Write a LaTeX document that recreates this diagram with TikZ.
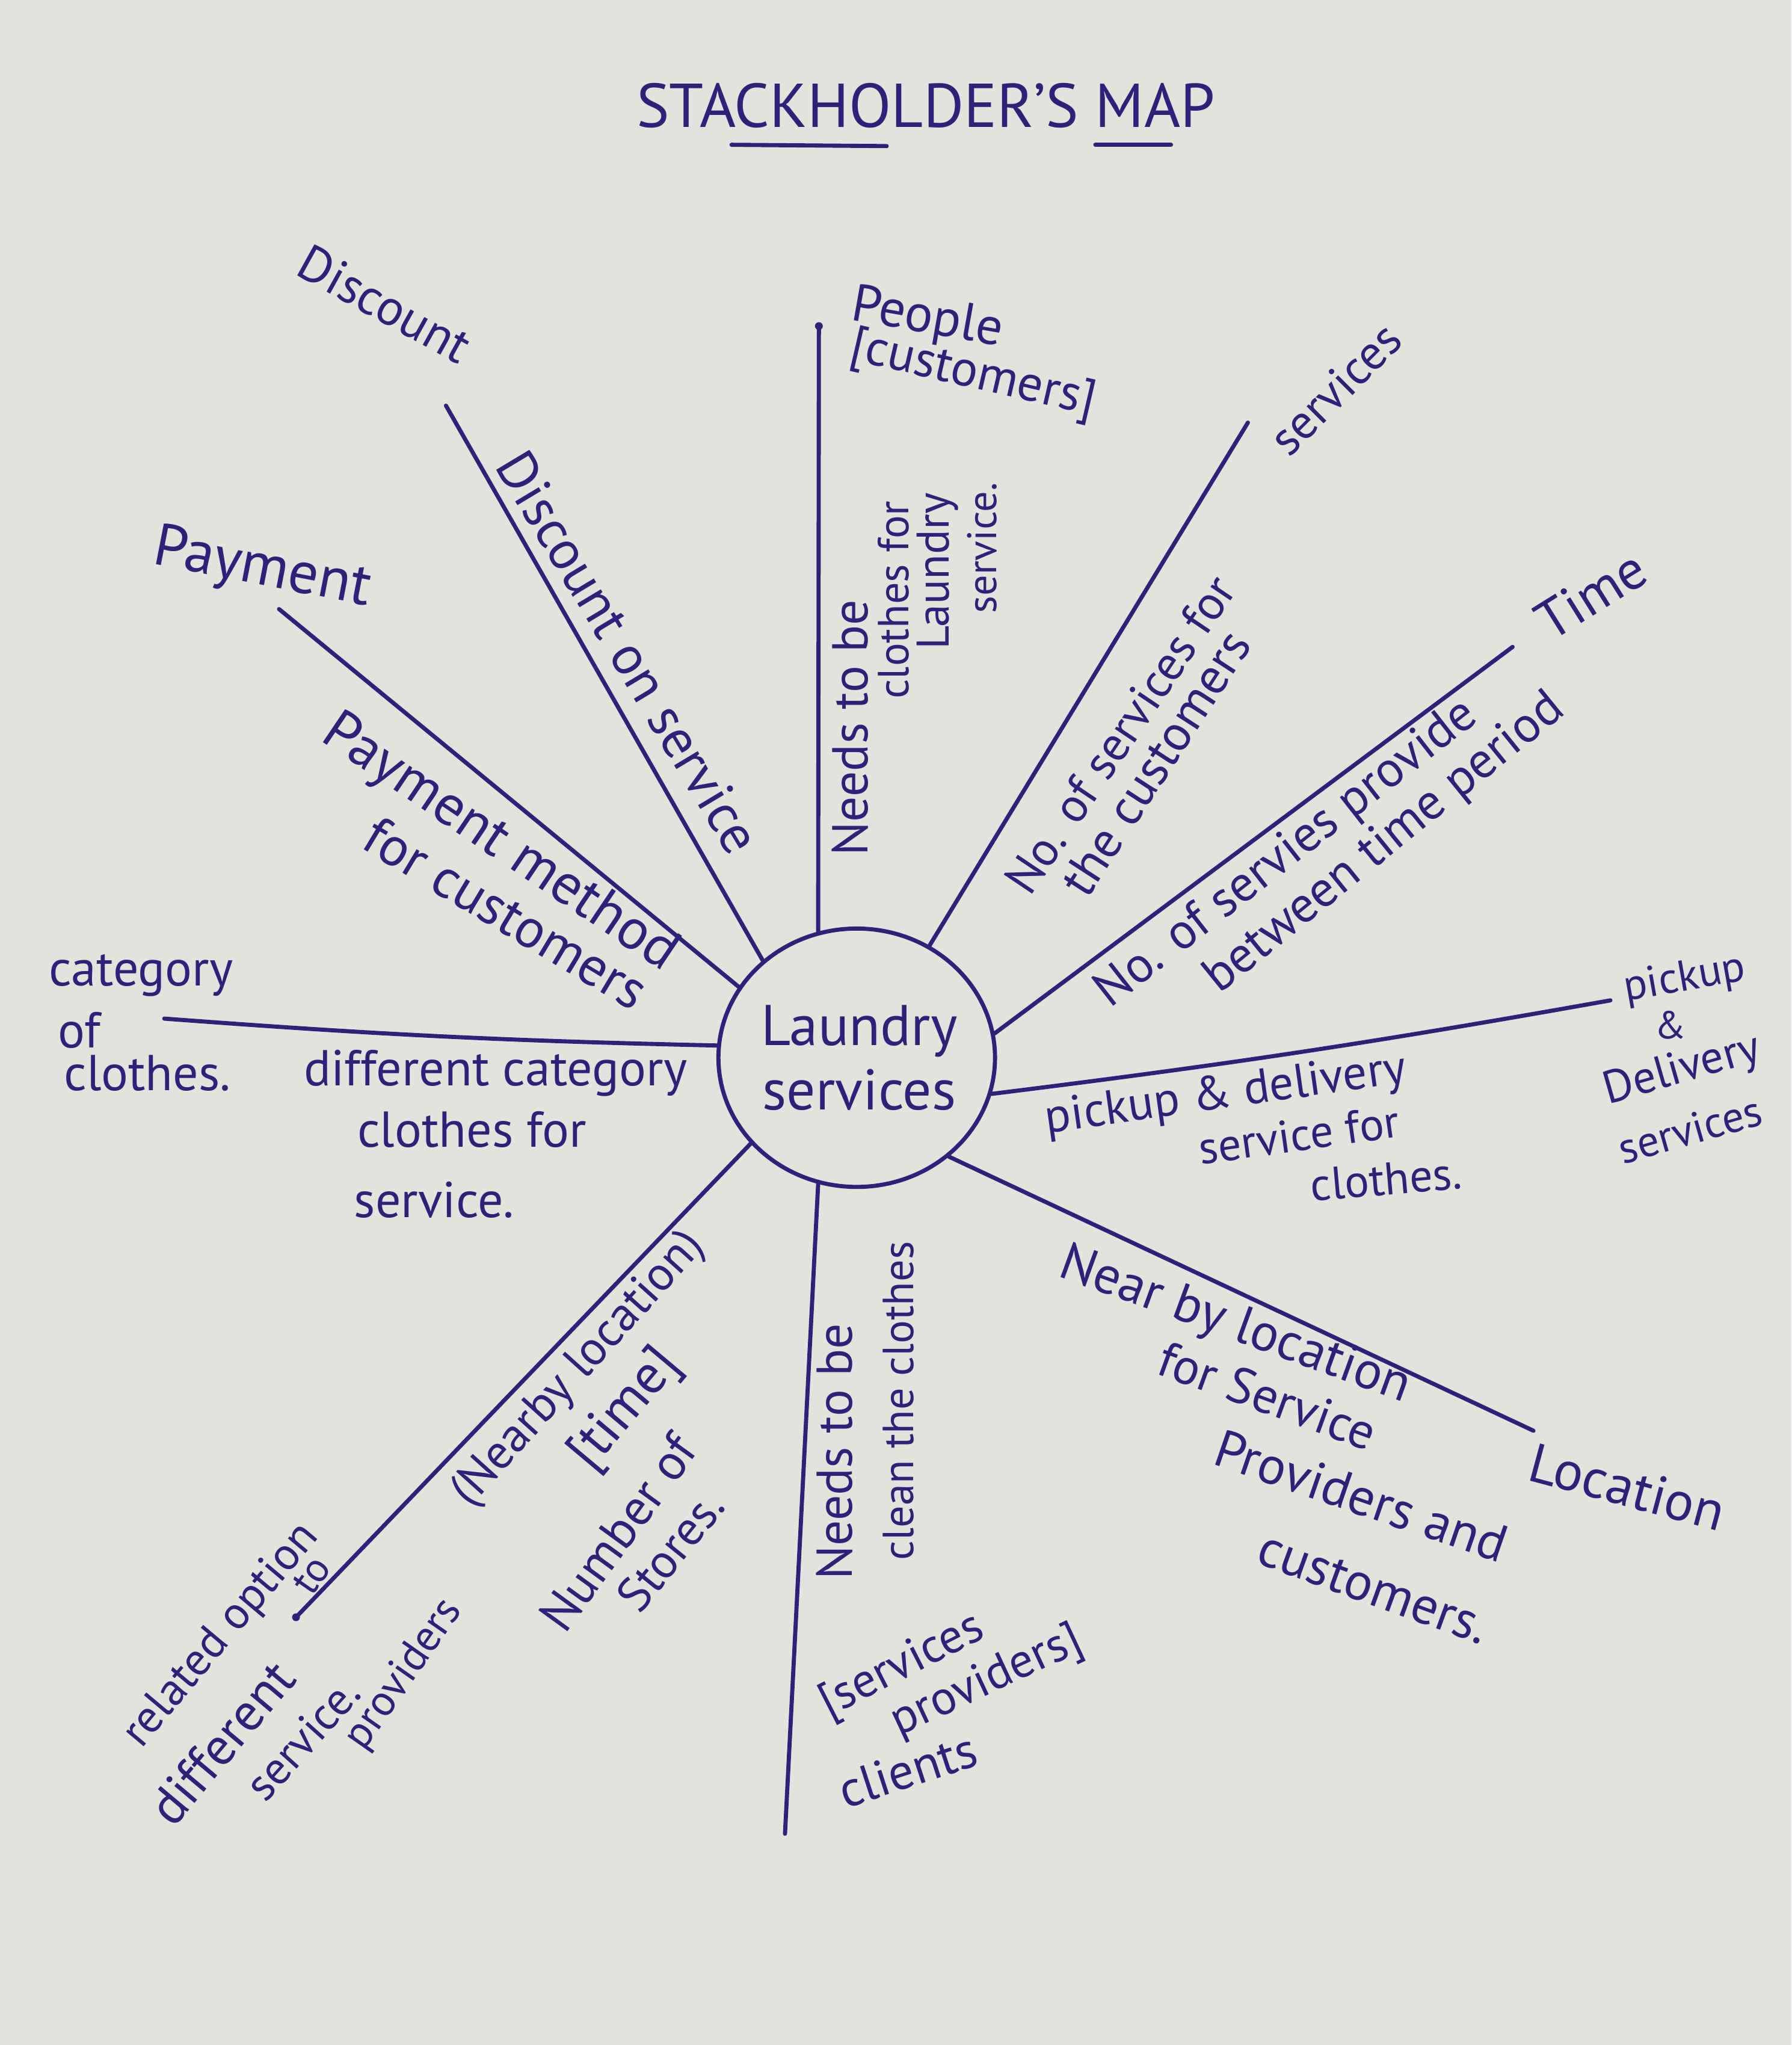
\documentclass[tikz,border=0pt]{standalone}
\usepackage{fontspec}
\setmainfont{PT Sans}
\usetikzlibrary{shapes.geometric}
\definecolor{ink}{RGB}{44,34,122}
\definecolor{paper}{RGB}{228,226,220}
\newcommand\hf[1]{\fontsize{#1}{#1}\selectfont}
\tikzset{
  inkline/.style={draw=ink, line width=0.9pt, line cap=round},
  hand/.style={text=ink, inner sep=0pt, anchor=center},
  hubshape/.style={ellipse, draw=ink, line width=0.9pt, minimum width=2.12cm, minimum height=1.98cm, inner sep=0pt},
}
\begin{document}
\begin{tikzpicture}[x=0.01cm, y=-0.01cm]
\useasboundingbox (0,0) rectangle (1374,1568);
\fill[paper] (0,0) rectangle (1374,1568);

% title
\node[hand, font=\hf{13.5}] (title) at (710,81) {STACKHOLDER'S MAP};
\coordinate (u1a) at (561,111); \coordinate (u1b) at (680,112);
\coordinate (u2a) at (840,111); \coordinate (u2b) at (898,111);
\draw[inkline] (u1a) -- (u1b);
\draw[inkline] (u2a) -- (u2b);

% hub
\node[hubshape] (hub) at (657,811) {};
\node[hand, font=\hf{12.5}, align=center] (hubtext) at (659,811) {Laundry\\[1.5pt]services};

% outer ends
\coordinate (c1) at (628,250);
\coordinate (c2) at (342,311);
\coordinate (c3) at (214,467);
\coordinate (c4) at (126,781);
\coordinate (c5) at (227,1240);
\coordinate (c6) at (602,1406);
\coordinate (c7) at (1176,1097);
\coordinate (c8) at (1235,767);
\coordinate (c9) at (1160,496);
\coordinate (c10) at (957,324);

\draw[inkline] (hub.107) -- (c1);
\draw[inkline] (hub.134) -- (c2);
\draw[inkline] (hub.149.5) -- (c3);
\draw[inkline] (hub.175) to[bend left=1.5] (c4);
\draw[inkline] (hub.219) -- (c5);
\draw[inkline] (hub.253) -- (c6);
\draw[inkline] (hub.313) -- (c7);
\draw[inkline] (hub.345) to[bend right=1.5] (c8);
\draw[inkline] (hub.10.7) -- (c9);
\draw[inkline] (hub.57.4) -- (c10);
\fill[ink] (c1) circle[radius=0.03cm];
\fill[ink] (c5) circle[radius=0.03cm];

% up: people
\node[hand, font=\hf{11.5}, rotate=-10] (peopleA) at (711,245) {People};
\node[hand, font=\hf{11}, rotate=-13] (peopleB) at (746,288) {[customers]};
\node[hand, font=\hf{11}, rotate=90] (needsA) at (652,558) {Needs to be};
\node[hand, font=\hf{9.5}, rotate=90] (needsB) at (685,460) {clothes for};
\node[hand, font=\hf{10}, rotate=90] (needsC) at (719,438) {Laundry};
\node[hand, font=\hf{9}, rotate=90] (needsD) at (753,420) {service.};

% discount
\node[hand, font=\hf{11}, rotate=-29] (discL) at (295,233) {Discount};
\node[hand, font=\hf{12}, rotate=-59] (discT) at (482,500) {Discount on service};

% payment
\node[hand, font=\hf{13}, rotate=-11] (payL) at (201,437) {Payment};
\node[hand, font=\hf{12.5}, rotate=-34] (payT1) at (383,647) {Payment method};
\node[hand, font=\hf{12}, rotate=-31] (payT2) at (388,700) {for customers};

% category
\node[hand, font=\hf{11}] (catA) at (108,748) {category};
\node[hand, font=\hf{11}] (catB) at (61,790) {of};
\node[hand, font=\hf{11}] (catC) at (113,823) {clothes.};
\node[hand, font=\hf{11}] (diffA) at (380,823) {different category};
\node[hand, font=\hf{11}] (diffB) at (362,866) {clothes for};
\node[hand, font=\hf{11}] (diffC) at (333,920) {service.};

% services
\node[hand, font=\hf{10.5}, rotate=45] (servL) at (1024,298) {services};
\node[hand, font=\hf{10.5}, rotate=56] (numA) at (859,563) {No. of services for};
\node[hand, font=\hf{11}, rotate=57] (numB) at (886,585) {the customers};

% time
\node[hand, font=\hf{12}, rotate=32] (timeL) at (1220,456) {Time};
\node[hand, font=\hf{11}, rotate=38] (tpA) at (987,655) {No. of servies provide};
\node[hand, font=\hf{11}, rotate=39] (tpB) at (1062,647) {between time period};

% pickup
\node[hand, font=\hf{10.5}, rotate=8] (pdA) at (940,840) {pickup \& delivery};
\node[hand, font=\hf{10}, rotate=8] (pdB) at (996,870) {service for};
\node[hand, font=\hf{10}, rotate=5] (pdC) at (1063,904) {clothes.};
\node[hand, font=\hf{9.5}, rotate=10] (pdLA) at (1292,751) {pickup};
\node[hand, font=\hf{8.5}] (pdLB) at (1281,786) {\&};
\node[hand, font=\hf{10}, rotate=16] (pdLC) at (1290,821) {Delivery};
\node[hand, font=\hf{9.5}, rotate=16] (pdLD) at (1296,866) {services};

% location
\node[hand, font=\hf{12}, rotate=-15] (locL) at (1248,1140) {Location};
\node[hand, font=\hf{11.5}, rotate=-20] (nearA) at (947,1017) {Near by location};
\node[hand, font=\hf{11}, rotate=-20] (nearB) at (972,1070) {for Service};
\node[hand, font=\hf{11.5}, rotate=-19] (nearC) at (1044,1147) {Providers and};
\node[hand, font=\hf{11.5}, rotate=-20] (nearD) at (1053,1218) {customers.};

% down
\node[hand, font=\hf{11}, rotate=90] (cleanA) at (640,1113) {Needs to be};
\node[hand, font=\hf{9.5}, rotate=90] (cleanB) at (689,1074) {clean the clothes};
\node[hand, font=\hf{10.5}, rotate=27] (spA) at (692,1278) {[services};
\node[hand, font=\hf{10.5}, rotate=25] (spB) at (757,1290) {providers]};
\node[hand, font=\hf{11}, rotate=18] (clients) at (696,1357) {clients};

% down-left
\node[hand, font=\hf{10.5}, rotate=48] (nbA) at (444,1050) {(Nearby location)};
\node[hand, font=\hf{12}, rotate=50] (nbB) at (480,1081) {[time]};
\node[hand, font=\hf{11}, rotate=54] (nsA) at (474,1175) {Number of};
\node[hand, font=\hf{10.5}, rotate=51] (nsB) at (514,1189) {Stores.};
\node[hand, font=\hf{10}, rotate=50] (roA) at (170,1254) {related option};
\node[hand, font=\hf{9}, rotate=55] (roT) at (239,1208) {to};
\node[hand, font=\hf{11.5}, rotate=50] (roB) at (170,1336) {different};
\node[hand, font=\hf{10}, rotate=48] (roC) at (232,1333) {service.};
\node[hand, font=\hf{9.5}, rotate=55] (roD) at (310,1284) {providers};
\end{tikzpicture}
\end{document}
